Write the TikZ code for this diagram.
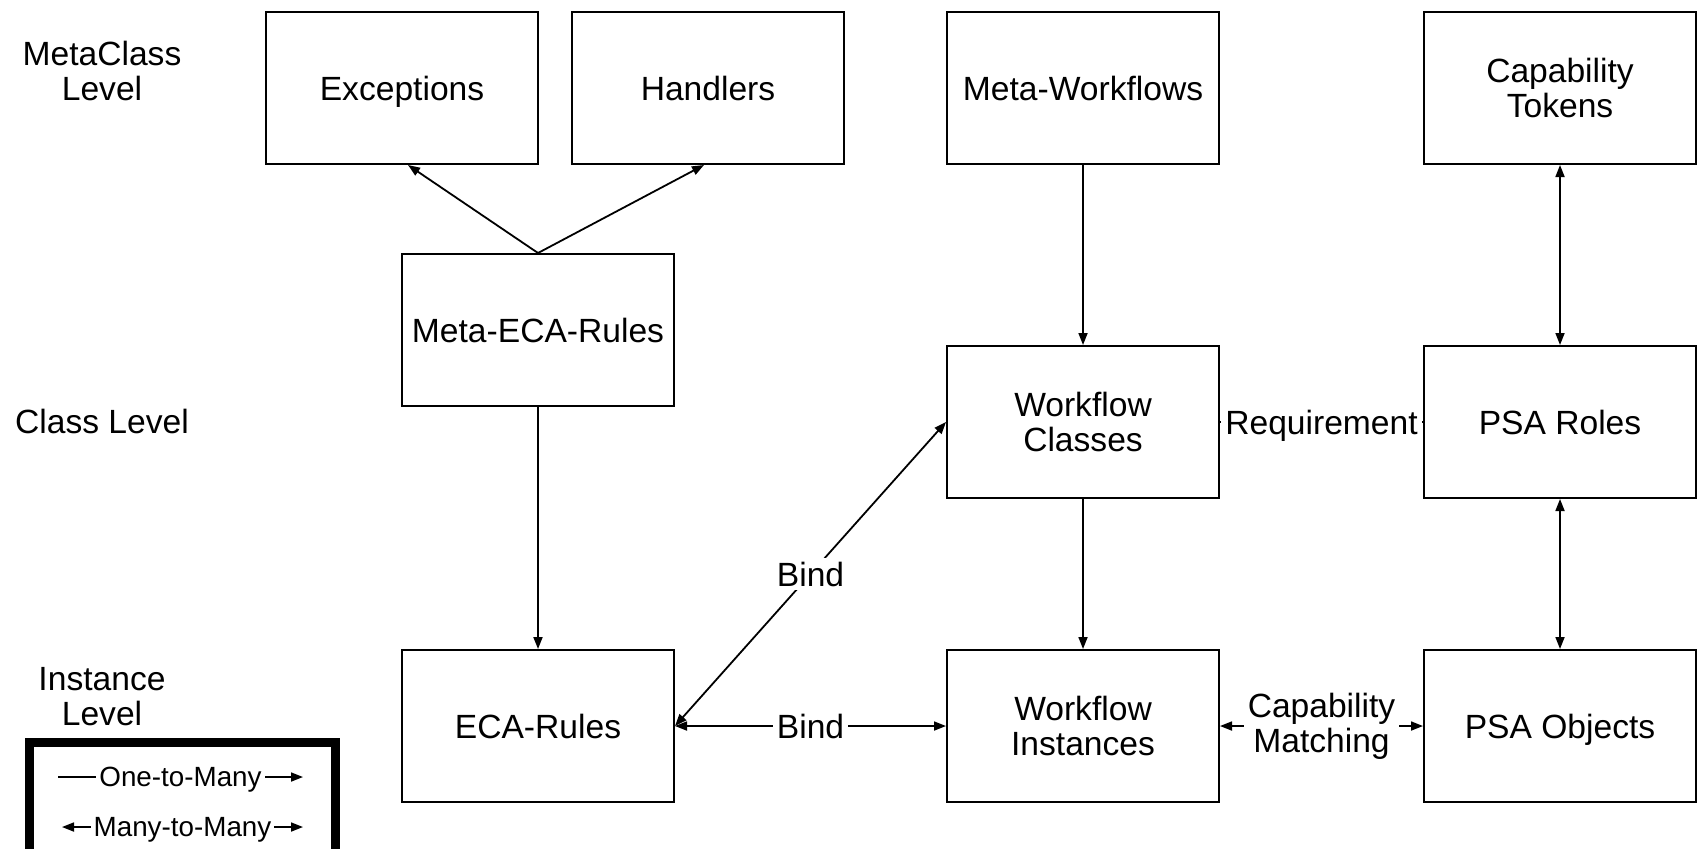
\documentclass[tikz,border=0pt]{standalone}
\usepackage{fontspec}
\setmainfont{Liberation Sans}
\usetikzlibrary{arrows.meta}

\begin{document}
\begin{tikzpicture}[x=0.5pt, y=-0.5pt,
		box/.style={draw, line width=1pt, minimum width=136pt, minimum height=76pt, align=center, text depth=0pt, font=\fontsize{16.8}{17.5}\selectfont},
		lvl/.style={align=center, font=\fontsize{16.8}{17.5}\selectfont},
		conn/.style={line width=0.9pt, -{Triangle[length=6pt,width=4.5pt]}},
		both/.style={line width=0.9pt, {Triangle[length=6pt,width=4.5pt]}-{Triangle[length=6pt,width=4.5pt]}},
		tag/.style={fill=white, inner sep=2pt, align=center, font=\fontsize{16.8}{17.5}\selectfont},
		legtext/.style={fill=white, inner sep=1.5pt, text depth=0pt, font=\fontsize{13.9}{15}\selectfont}]
			%%%%% START %%%%%
			
			\useasboundingbox (0, 0) rectangle (1700, 848);
			
			\node[lvl] (lmeta) at (102, 71) {MetaClass\\Level};
			\node[lvl] (lclass) at (102, 421) {Class Level};
			\node[lvl] (linst) at (102, 697) {Instance\\Level};
			
			\node[box] (exc) at (402, 88) {Exceptions};
			\node[box] (hand) at (708, 88) {Handlers};
			\node[box] (metawf) at (1083, 88) {Meta-Workflows};
			\node[box] (captok) at (1560, 88) {Capability\\Tokens};
			
			\node[box] (metaeca) at (538, 330) {Meta-ECA-Rules};
			\node[box] (wfclass) at (1083, 422) {Workflow\\Classes};
			\node[box] (psaroles) at (1560, 422) {PSA Roles};
			
			\node[box] (eca) at (538, 726) {ECA-Rules};
			\node[box] (wfinst) at (1083, 726) {Workflow\\Instances};
			\node[box] (psaobj) at (1560, 726) {PSA Objects};
			
			\draw[conn] (metaeca.north) -- ([xshift=3pt]exc.south);
			\draw[conn] (metaeca.north) -- ([xshift=-2pt]hand.south);
			\draw[conn] (metawf) -- (wfclass);
			\draw[conn] (metaeca) -- (eca);
			\draw[conn] (wfclass) -- (wfinst);
			
			\draw[both] (captok) -- (psaroles);
			\draw[both] (psaroles) -- (psaobj);
			
			\draw[line width=0.9pt] (wfclass) -- node[tag, text depth=0pt] {Requirement} (psaroles);
			\draw[both] (eca.east) -- node[tag] {Bind} (wfclass.west);
			\draw[both] (eca) -- node[tag] {Bind} (wfinst);
			\draw[both] (wfinst) -- node[tag] {Capability\\Matching} (psaobj);
			
			% legend
			\draw[line width=4.5pt] (29, 870) -- (29, 742) -- (335, 742) -- (335, 870);
			\coordinate (onea) at (58, 777);
			\coordinate (oneb) at (303, 777);
			\coordinate (manya) at (62, 827);
			\coordinate (manyb) at (303, 827);
			\draw[conn] (onea) -- node[legtext] {One-to-Many} (oneb);
			\draw[both] (manya) -- node[legtext] {Many-to-Many} (manyb);
			
			%%%%% END %%%%%
		\end{tikzpicture}
\end{document}
